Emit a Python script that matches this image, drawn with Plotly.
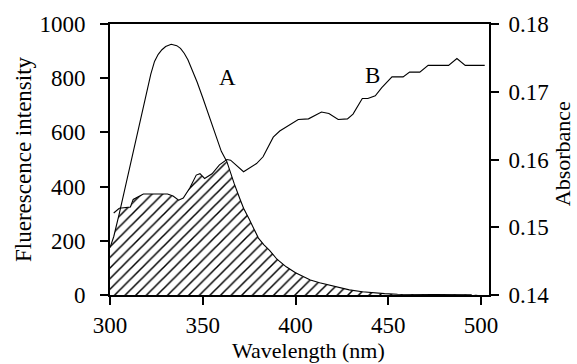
import numpy as np
import plotly.graph_objects as go

# Curve A: fluorescence emission (left axis)
a_nm = [300, 302, 305, 308, 311, 313, 315, 318, 320, 322, 324, 326, 328, 330, 333, 336, 338,
        340, 342, 345, 347, 350, 353, 356, 360, 363, 365, 367, 370, 372, 375, 377, 380, 383,
        386, 390, 395, 400, 404, 408, 413, 418, 423, 429, 436, 442, 448, 455, 465, 475, 485, 495]
a_fl = [175, 215, 300, 390, 480, 540, 600, 690, 750, 815, 862, 888, 905, 917, 925, 920, 910,
        892, 868, 820, 785, 728, 668, 606, 530, 492, 450, 410, 355, 320, 280, 250, 210, 185,
        165, 132, 104, 82, 67, 55, 45, 36, 27, 19, 12, 8, 5, 3, 2, 1, 1, 1]

# Curve B: absorbance (right axis)
b_nm = [302, 305, 311, 312.5, 318, 331, 334, 337, 339.5, 343, 346.5, 348.5, 351, 355, 359, 363,
        365, 372, 379, 382.5, 388, 391.5, 401.5, 407, 414, 418, 423, 428, 431, 433, 436, 439,
        443, 446.5, 452, 458, 461.5, 467, 471.5, 482.5, 487, 491.5, 502]
b_abs = [0.1521, 0.1528, 0.1530, 0.1541, 0.1549, 0.1549, 0.1546, 0.1540, 0.1543, 0.1558, 0.1577,
         0.1579, 0.1572, 0.1579, 0.1592, 0.1600, 0.1599, 0.1582, 0.1594, 0.1604, 0.1633, 0.1642,
         0.1659, 0.1660, 0.1670, 0.1668, 0.1659, 0.1660, 0.1667, 0.1676, 0.1690, 0.1690, 0.1694,
         0.1706, 0.1722, 0.1722, 0.1729, 0.1729, 0.1739, 0.1739, 0.1749, 0.1739, 0.1739]

x_ticks = [300, 350, 400, 450, 500]
y_ticks = [0, 200, 400, 600, 800, 1000]
y2_ticks = [0.14, 0.15, 0.16, 0.17, 0.18]

Y_RANGE = [0, 1000]
Y2_RANGE = [0.14, 0.18]

# overlap region (min of both curves, B expressed in left-axis units)
grid = np.array(sorted(set(a_nm) | set(b_nm)), dtype=float)
a_i = np.interp(grid, a_nm, a_fl)
b_eq = (np.array(b_abs) - Y2_RANGE[0]) / (Y2_RANGE[1] - Y2_RANGE[0]) * (Y_RANGE[1] - Y_RANGE[0])
b_i = np.interp(grid, b_nm, b_eq)
b_i[grid < b_nm[0]] = np.inf
overlap = np.minimum(a_i, b_i)

FONT = "Liberation Serif"

fig = go.Figure()
fig.add_trace(go.Scatter(
    x=grid, y=overlap, mode="lines", line=dict(width=0, color="black"),
    fill="tozeroy", fillcolor="white",
    fillpattern=dict(shape="/", size=7.5, solidity=0.2, fgcolor="black", fgopacity=1,
                     bgcolor="white"),
    showlegend=False, hoverinfo="skip"))
fig.add_trace(go.Scatter(x=a_nm, y=a_fl, mode="lines", line=dict(color="black", width=1.1),
                         showlegend=False))
fig.add_trace(go.Scatter(x=b_nm, y=b_abs, mode="lines", line=dict(color="black", width=1.1),
                         yaxis="y2", showlegend=False))

axis_common = dict(showgrid=False, zeroline=False, showline=True, linecolor="black", linewidth=2,
                   ticks="outside", ticklen=8, tickwidth=2, tickcolor="black",
                   tickfont=dict(family=FONT, size=23, color="black"))

fig.update_layout(
    width=577, height=364,
    margin=dict(l=110, r=88, t=20, b=69),
    paper_bgcolor="white", plot_bgcolor="white",
    xaxis=dict(range=[300, 504.3], tickvals=x_ticks, mirror=True, **axis_common),
    yaxis=dict(range=Y_RANGE, tickvals=y_ticks, ticklabelstandoff=10, **axis_common),
    yaxis2=dict(range=Y2_RANGE, tickvals=y2_ticks, ticktext=[f"{v:.2f}" for v in y2_ticks],
                overlaying="y", side="right", ticklabelstandoff=5, **axis_common),
    annotations=[
        dict(x=363.4, y=802, text="A", showarrow=False, xref="x", yref="y",
             font=dict(family=FONT, size=23, color="black")),
        dict(x=441.5, y=809, text="B", showarrow=False, xref="x", yref="y",
             font=dict(family=FONT, size=23, color="black")),
        dict(x=0.525, y=-0.205, xref="paper", yref="paper", text="Wavelength (nm)",
             showarrow=False, xanchor="center", yanchor="middle",
             font=dict(family=FONT, size=22, color="black")),
        dict(x=-0.227, y=0.502, xref="paper", yref="paper", text="Fluerescence intensity",
             showarrow=False, textangle=-90, xanchor="center", yanchor="middle",
             font=dict(family=FONT, size=23, color="black")),
        dict(x=1.193, y=0.52, xref="paper", yref="paper", text="Absorbance",
             showarrow=False, textangle=-90, xanchor="center", yanchor="middle",
             font=dict(family=FONT, size=22, color="black")),
    ],
)

fig.write_html("out.html")
